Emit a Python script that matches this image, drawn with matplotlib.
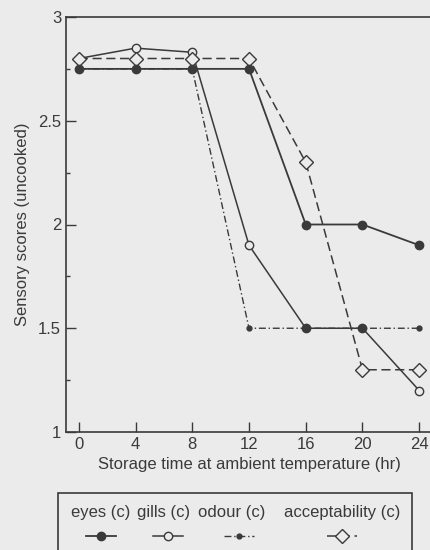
#! /usr/bin/env python3
# -*- coding: utf-8 -*-
"""
    sensory scores of uncooked fish stored at ambient temperature
"""
import matplotlib
matplotlib.use("Agg")
import matplotlib.pyplot as plt
from matplotlib.lines import Line2D
from matplotlib.patches import Rectangle

hours = [0, 4, 8, 12, 16, 20, 24]
eyes = [2.75, 2.75, 2.75, 2.75, 2.0, 2.0, 1.9]
gills = [2.8, 2.85, 2.83, 1.9, 1.5, 1.5, 1.2]
odour = [2.75, 2.75, 2.75, 1.5, 1.5, 1.5, 1.5]
acceptability = [2.8, 2.8, 2.8, 2.8, 2.3, 1.3, 1.3]
labels = ["eyes (c)", "gills (c)", "odour (c)", "acceptability (c)"]

ink = "#3a3a3a"
bg = "#ebebeb"
plt.rcParams["font.family"] = ["Liberation Sans", "DejaVu Sans"]

lines = [
    dict(color=ink, lw=1.3, ls="-"),
    dict(color=ink, lw=1.1, ls="-"),
    dict(color=ink, lw=1.0, ls=(0, (5, 2, 1, 2))),
    dict(color=ink, lw=1.1, ls=(0, (6, 3))),
]
marks = [
    dict(marker="o", ms=6, mfc=ink, mec=ink),
    dict(marker="o", ms=6, mfc=bg, mec=ink, mew=1.0),
    dict(marker="o", ms=3.5, mfc=ink, mec=ink),
    dict(marker="D", ms=7, mfc=bg, mec=ink, mew=1.0),
]

fig = plt.figure(figsize=(4.3, 5.5), dpi=100, facecolor=bg)
ax = fig.add_axes([66/430, 118/550, 366/430, 415/550])
ax.set_facecolor(bg)

# gills points that sit on the odour line are printed filled in the original
ax.plot(hours, gills, **lines[1], **marks[1], markevery=[0, 1, 2, 3, 6])
ax.plot(hours, gills, ls="none", marker="o", ms=6, mfc=ink, mec=ink, markevery=[4, 5])
ax.plot(hours, acceptability, **lines[3], **marks[3])
ax.plot(hours, eyes, **lines[0], **marks[0])
ax.plot(hours, odour, **lines[2], **marks[2])

ax.set_xlim(-0.9, 24.9)
ax.set_ylim(1, 3)
ax.set_xticks(hours)
ax.set_yticks([1, 1.5, 2, 2.5, 3])
ax.set_yticklabels(["1", "1.5", "2", "2.5", "3"])
ax.set_yticks([1.25, 1.75, 2.25, 2.75], minor=True)
ax.tick_params(direction="in", length=7, width=1, colors=ink, labelsize=12)
ax.tick_params(which="minor", direction="in", length=3, width=1, colors=ink)
for s in ax.spines.values():
    s.set_color(ink)
    s.set_linewidth(1.2)
ax.set_xlabel("Storage time at ambient temperature (hr)", fontsize=12, color=ink, labelpad=4)
ax.set_ylabel("Sensory scores (uncooked)", fontsize=12, color=ink, labelpad=6)

# legend box: labels on top, line samples underneath
fig.add_artist(Rectangle((58/430, -0.05), 354/430, 0.05 + 57/550, transform=fig.transFigure,
                         fill=False, ec=ink, lw=1.2))
label_x = [101, 164, 232, 342]
mark_x = [101, 168, 239, 342]
for lab, cx, mx, ln, mk in zip(labels, label_x, mark_x, lines, marks):
    fig.text(cx/430, 1 - 512/550, lab, ha="center", va="center", fontsize=12, color=ink)
    fig.add_artist(Line2D([(mx - 15)/430, (mx + 15)/430], [1 - 536/550] * 2,
                          transform=fig.transFigure, **ln))
    fig.add_artist(Line2D([mx/430], [1 - 536/550], transform=fig.transFigure,
                          ls="none", **mk))

fig.savefig("out.png", dpi=100, facecolor=bg)
